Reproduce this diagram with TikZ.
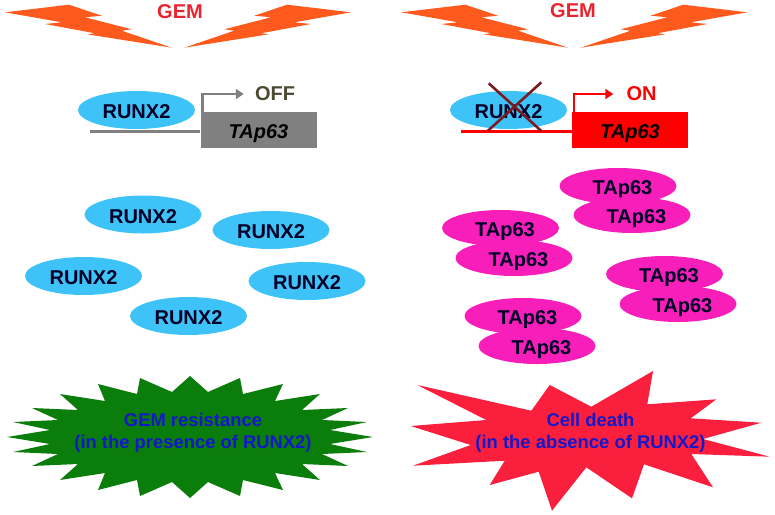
\documentclass[tikz,border=0pt]{standalone}
\usepackage{fontspec}
\setmainfont{Liberation Sans}
\usetikzlibrary{arrows.meta,shapes.geometric}
\definecolor{runxblue}{HTML}{3DC3F7}
\definecolor{tapmagenta}{HTML}{F71EB9}
\definecolor{boltorange}{HTML}{FF5A1E}
\definecolor{gemred}{HTML}{E8252F}
\definecolor{burstgreen}{HTML}{0A7D0A}
\definecolor{burstred}{HTML}{FB1F3E}
\definecolor{crossred}{HTML}{7A1C22}
\definecolor{labelblue}{HTML}{1518C8}
\definecolor{offtext}{HTML}{4A4A32}
\newcommand{\labelfont}{\fontsize{20}{22}\selectfont\bfseries}

\begin{document}
\begin{tikzpicture}[
  x=1pt,y=-1pt,
  runx/.style={ellipse,fill=runxblue,inner sep=0pt,minimum width=117pt,minimum height=38pt,text=black!85!blue,font=\labelfont,text height=17pt,text depth=0pt},
  tap/.style={ellipse,fill=tapmagenta,inner sep=0pt,minimum width=117pt,minimum height=36pt,text=black!85!blue,font=\labelfont,text height=17pt,text depth=0pt},
  gene/.style={rectangle,inner sep=0pt,minimum width=116pt,minimum height=36pt,font=\labelfont\itshape,text height=17pt,text depth=0pt},
  genearr/.style={-{Triangle[length=8pt,width=10pt]},line width=2.6pt},
  promoter/.style={line width=2.8pt},
  state/.style={inner ysep=0pt,font=\labelfont},
  burst/.style={align=center,text=labelblue,font=\fontsize{18.4}{22}\selectfont\bfseries},
  bolt/.pic={
    \fill[boltorange] (5,12.3) -- (69,4.7) -- (101.7,15.7) -- (85,17.3) -- (131.7,29.3) -- (121.7,30.7)
      -- (171.7,47.7) -- (87.3,34.3) -- (95,33.3) -- (45,24) -- (61.7,22.3) -- cycle;
  }
]
  \useasboundingbox (0,0) rectangle (775,514);

  % lightning on both halves
  \foreach \xoff in {0,396.3}{
    \pic at (\xoff,0) {bolt};
    \pic[xscale=-1] at (356+\xoff,0) {bolt};
  }
  \node[state,text=gemred] (gemL) at (180,12) {GEM};
  \node[state,text=gemred] (gemR) at (573,11) {GEM};

  % promoter, left
  \node[runx] (runxL) at (136.5,110) {RUNX2};
  \node[gene,fill=black!50] (geneL) at (258.5,130) {TAp63};
  \node[state,text=offtext,inner xsep=11pt] (offL) at (275,94) {OFF};
  \coordinate (promL) at (90,131.5);
  \draw[promoter,black!50] (promL) -- (promL -| geneL.west);
  \draw[genearr,black!50] ([xshift=2pt]geneL.north west) |- (offL.west);

  % promoter, right
  \node[runx] (runxR) at (508.5,110) {RUNX2};
  \node[gene,fill=red] (geneR) at (630,130) {TAp63};
  \node[state,text=red,inner xsep=13pt] (onR) at (641.5,94) {ON};
  \coordinate (promR) at (461,131.5);
  \draw[promoter,red] (promR) -- (promR -| geneR.west);
  \draw[genearr,red] ([xshift=2pt]geneR.north west) |- (onR.west);
  \draw[crossred,line width=2.6pt] (488.7,83.3) -- (541.3,131);
  \draw[crossred,line width=2.6pt] (541.3,82.3) -- (488,130.7);

  % free RUNX2
  \node[runx] (runxA) at (143,214.5) {RUNX2};
  \node[runx] (runxB) at (271,230) {RUNX2};
  \node[runx] (runxC) at (83.5,276) {RUNX2};
  \node[runx] (runxD) at (307,281) {RUNX2};
  \node[runx] (runxE) at (188.5,316) {RUNX2};

  % TAp63 pairs
  \node[tap] (tapA) at (618,186) {\hspace*{9pt}TAp63};
  \node[tap] (tapB) at (632,215) {\hspace*{9pt}TAp63};
  \node[tap] (tapC) at (500.5,228) {\hspace*{9pt}TAp63};
  \node[tap] (tapD) at (514,258) {\hspace*{9pt}TAp63};
  \node[tap] (tapE) at (664.5,274) {\hspace*{9pt}TAp63};
  \node[tap] (tapF) at (678,304) {\hspace*{9pt}TAp63};
  \node[tap] (tapG) at (523,316) {\hspace*{9pt}TAp63};
  \node[tap] (tapH) at (537,346) {\hspace*{9pt}TAp63};

  % outcome bursts
  \fill[burstgreen] (190,376) -- (208,392) -- (240,378) -- (243,394) -- (283,384) -- (275,401)
    -- (320,394) -- (302,410) -- (348,408) -- (322,420) -- (367,422) -- (330,430)
    -- (373,437) -- (330,444) -- (367,452) -- (322,454) -- (348,466) -- (302,464)
    -- (320,480) -- (275,473) -- (283,490) -- (243,480) -- (240,496) -- (208,482)
    -- (190,498) -- (172,482) -- (140,496) -- (137,480) -- (98,490) -- (105,473)
    -- (60,480) -- (78,464) -- (32,466) -- (58,454) -- (13,452) -- (50,444)
    -- (7,437) -- (50,430) -- (13,422) -- (58,420) -- (32,408) -- (78,410)
    -- (60,394) -- (105,401) -- (98,384) -- (137,394) -- (140,378) -- (172,392) -- cycle;
  \fill[burstred] (417.3,385) -- (531.3,410.7) -- (549.7,385) -- (591.3,406.7) -- (653,371)
    -- (647.3,404.3) -- (716.3,399.3) -- (690.7,418.3) -- (761.3,422.7) -- (703,439)
    -- (769.7,456.7) -- (691.3,454) -- (713,487.3) -- (644,464.3) -- (632,498.3)
    -- (586.3,467.3) -- (552,510.7) -- (538.7,471.7) -- (489.7,485) -- (504.7,460.7)
    -- (413,465.7) -- (470.7,445) -- (410.7,426) -- (486.3,420) -- cycle;
  \node[burst] (resist) at (193,432.5) {GEM resistance\\(in the presence of RUNX2)};
  \node[burst] (death) at (590.5,432.5) {Cell death\\(in the absence of RUNX2)};
\end{tikzpicture}
\end{document}
